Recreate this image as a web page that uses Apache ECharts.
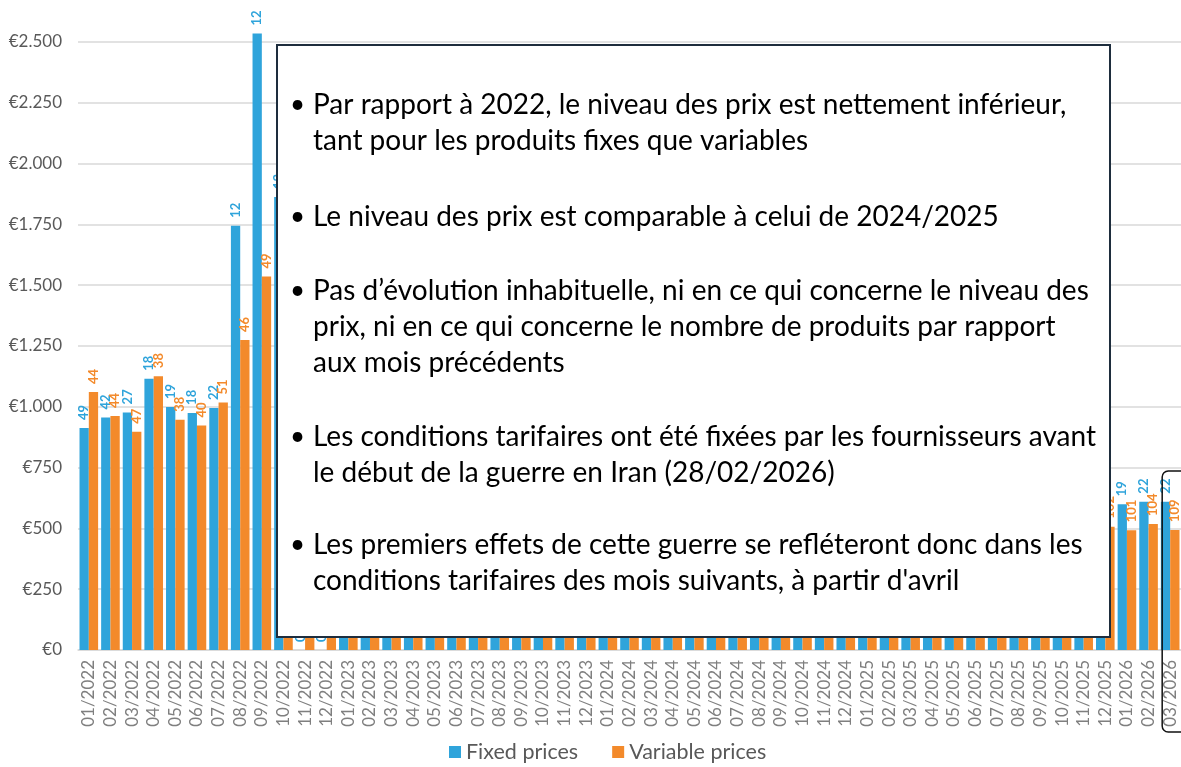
<!DOCTYPE html>
<html>
<head>
<meta charset="utf-8">
<script src="https://cdn.jsdelivr.net/npm/echarts@6/dist/echarts.min.js"></script>
<style>
  html, body { margin: 0; padding: 0; background: #fff; }
  #chart { width: 1181px; height: 767px; }
</style>
</head>
<body>
<div id="chart"></div>
<script>
// mois affichés sur l'axe
const months = [
  '01/2022', '02/2022', '03/2022', '04/2022', '05/2022', '06/2022', '07/2022', '08/2022', '09/2022', '10/2022', '11/2022', '12/2022',
  '01/2023', '02/2023', '03/2023', '04/2023', '05/2023', '06/2023', '07/2023', '08/2023', '09/2023', '10/2023', '11/2023', '12/2023',
  '01/2024', '02/2024', '03/2024', '04/2024', '05/2024', '06/2024', '07/2024', '08/2024', '09/2024', '10/2024', '11/2024', '12/2024',
  '01/2025', '02/2025', '03/2025', '04/2025', '05/2025', '06/2025', '07/2025', '08/2025', '09/2025', '10/2025', '11/2025', '12/2025',
  '01/2026', '02/2026', '03/2026'
]

// prix moyens (EUR) - les valeurs cachées derrière l'encadré sont estimées
const fixedPrices = [
  913, 956, 977, 1115, 999, 975, 995, 1744, 2535, 1863, 0, 0,
  1500, 1250, 1050, 950, 850, 800, 780, 800, 850, 820, 760, 700,
  650, 600, 580, 560, 570, 590, 600, 610, 620, 640, 660, 670,
  680, 690, 650, 620, 600, 590, 600, 610, 600, 605, 600, 600,
  599, 610, 610
]
const variablePrices = [
  1061, 962, 897, 1126, 947, 923, 1018, 1275, 1536, 1400, 1300, 1150,
  1000, 850, 700, 620, 560, 540, 540, 560, 580, 560, 540, 510,
  470, 450, 440, 430, 440, 450, 460, 470, 480, 500, 520, 530,
  540, 540, 510, 490, 480, 480, 490, 495, 500, 505, 505, 507,
  492, 518, 493
]

// nombre de produits (étiquettes au-dessus des barres)
const fixedCounts = [
  49, 42, 27, 18, 19, 18, 22, 12, 12, 13, 0, 0,
  3, 5, 8, 10, 12, 14, 15, 16, 17, 18, 18, 19,
  19, 20, 20, 21, 21, 21, 22, 22, 22, 22, 22, 22,
  22, 22, 22, 21, 21, 21, 20, 20, 20, 20, 19, 19,
  19, 22, 22
]
const variableCounts = [
  44, 44, 47, 38, 38, 40, 51, 46, 49, 52, 55, 58,
  60, 62, 64, 66, 68, 70, 72, 74, 76, 78, 80, 82,
  84, 85, 86, 87, 88, 89, 90, 91, 92, 93, 94, 95,
  96, 96, 97, 97, 98, 98, 99, 99, 100, 100, 101, 102,
  101, 104, 109
]

const yTicks = [0, 250, 500, 750, 1000, 1250, 1500, 1750, 2000, 2250, 2500]

const bullets = [
  ['Par rapport à 2022, le niveau des prix est nettement inférieur,', 'tant pour les produits fixes que variables'],
  ['Le niveau des prix est comparable à celui de 2024/2025'],
  ['Pas d’évolution inhabituelle, ni en ce qui concerne le niveau des', 'prix, ni en ce qui concerne le nombre de produits par rapport', 'aux mois précédents'],
  ['Les conditions tarifaires ont été fixées par les fournisseurs avant', 'le début de la guerre en Iran (28/02/2026)'],
  ['Les premiers effets de cette guerre se refléteront donc dans les', 'conditions tarifaires des mois suivants, à partir d\'avril']
]

const FONT = 'Lato, "Open Sans", sans-serif'
const myChart = echarts.init(document.getElementById('chart'))

const fmtEuro = (v) => '€' + String(v).replace(/\B(?=(\d{3})+(?!\d))/g, '.')

const barConfig = {
  type: 'bar',
  barGap: '0%',
  barCategoryGap: '14%',
  clip: false,
  label: {
    show: true,
    position: 'top',
    rotate: 90,
    align: 'left',
    verticalAlign: 'middle',
    distance: 8,
    fontFamily: FONT,
    fontSize: 13,
    fontWeight: 'bold'
  }
}

// encadré de texte
const boxTop = 45
const lineStarts = [105, 217, 291, 437, 545]
const lineGap = 36
const textElems = [{
  type: 'rect',
  z: 100,
  shape: { x: 277, y: boxTop, width: 833, height: 592 },
  style: { fill: '#fff', stroke: '#1e2d3d', lineWidth: 2 }
}]
bullets.forEach((lines, i) => {
  textElems.push({
    type: 'text',
    z: 101,
    x: 290,
    y: lineStarts[i],
    style: { text: '•', fontFamily: FONT, fontSize: 26, fill: '#000', verticalAlign: 'middle' }
  })
  lines.forEach((line, j) => {
    textElems.push({
      type: 'text',
      z: 101,
      x: 313,
      y: lineStarts[i] + j * lineGap,
      style: { text: line, fontFamily: FONT, fontSize: 28, fill: '#000', verticalAlign: 'middle' }
    })
  })
})

const option = {
  animation: false,
  backgroundColor: '#fff',
  grid: { left: 78, right: -4, top: 42, bottom: 117 },
  legend: {
    left: 449,
    top: 741,
    padding: 0,
    itemWidth: 12,
    itemHeight: 12,
    itemGap: 34,
    icon: 'rect',
    textStyle: { fontFamily: FONT, fontSize: 21.5, color: '#595959' },
    data: ['Fixed prices', 'Variable prices']
  },
  xAxis: {
    type: 'category',
    data: months,
    axisLine: { lineStyle: { color: '#d9d9d9', width: 1.5 } },
    axisTick: { length: 6, lineStyle: { color: '#d9d9d9', width: 1.5 } },
    axisLabel: { interval: 0, rotate: 90, margin: 10, fontFamily: FONT, fontSize: 17, color: '#7f7f7f' }
  },
  yAxis: {
    type: 'value',
    min: yTicks[0],
    max: yTicks[yTicks.length - 1],
    interval: yTicks[1] - yTicks[0],
    axisLine: { show: false },
    axisTick: { show: false },
    splitLine: { lineStyle: { color: '#d9d9d9', width: 1.5 } },
    axisLabel: { margin: 16, fontFamily: FONT, fontSize: 17, color: '#595959', formatter: fmtEuro }
  },
  series: [
    {
      name: 'Fixed prices',
      color: '#2fa4db',
      data: fixedPrices,
      ...barConfig,
      label: { ...barConfig.label, color: '#2fa4db', formatter: (p) => fixedCounts[p.dataIndex] }
    },
    {
      name: 'Variable prices',
      color: '#f38a2b',
      data: variablePrices,
      ...barConfig,
      label: { ...barConfig.label, color: '#f38a2b', formatter: (p) => variableCounts[p.dataIndex] }
    }
  ],
  graphic: textElems
}
myChart.setOption(option)

// cadre arrondi autour du dernier mois
const lastX = myChart.convertToPixel({ xAxisIndex: 0 }, months[months.length - 1])
myChart.setOption({
  graphic: textElems.concat([{
    type: 'rect',
    z: 102,
    shape: { x: lastX - 8, y: 471, width: 40, height: 261, r: 6 },
    style: { fill: 'none', stroke: '#111', lineWidth: 1.5 }
  }])
})
</script>
</body>
</html>
